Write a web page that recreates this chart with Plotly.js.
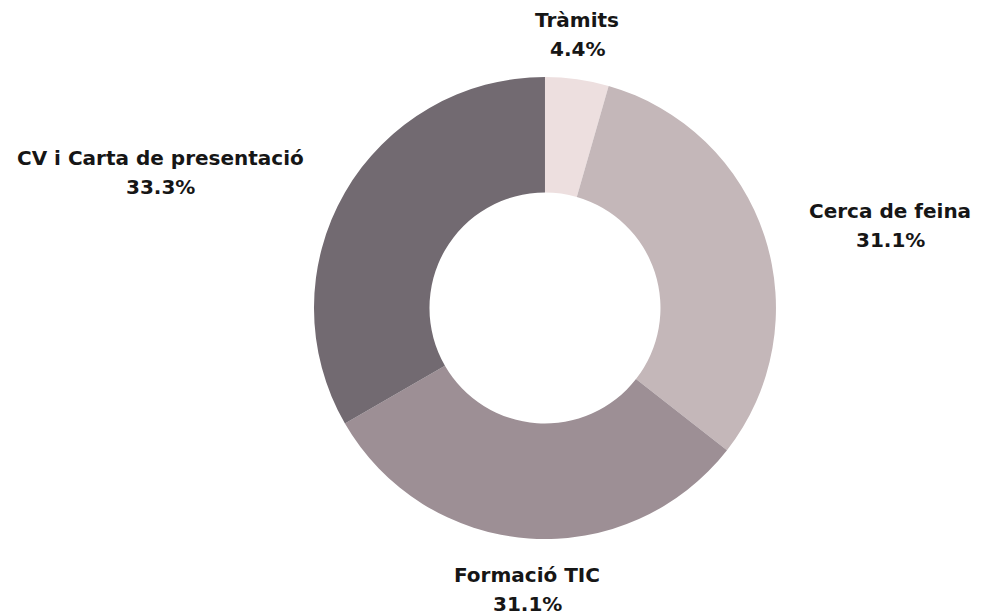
<!DOCTYPE html>
<html>
<head>
<meta charset="utf-8">
<script src="https://cdn.plot.ly/plotly-3.0.1.min.js"></script>
<style>html,body{margin:0;padding:0;background:#fff;}#chart{width:983px;height:615px;}</style>
</head>
<body>
<div id="chart"></div>
<script>
const categories = ["Tràmits", "Cerca de feina", "Formació TIC", "CV i Carta de presentació"];
const values = [2, 14, 14, 15];
const colors = ["#eddfdf", "#c4b7b9", "#9d8f95", "#726a71"];

const total = values.reduce((a, b) => a + b, 0);
const pctLabels = values.map(v => (100 * v / total).toFixed(1) + "%");

// label anchor positions in pixels (center x, name line y) for each category
const labelPx = [
  {x: 577, y: 20},
  {x: 890, y: 211},
  {x: 527, y: 575},
  {x: 160, y: 158}
];
const W = 983, H = 615, lineGap = 29;

const trace = {
  type: "pie",
  labels: categories,
  values: values,
  hole: 0.5,
  sort: false,
  direction: "clockwise",
  rotation: 0,
  marker: {colors: colors, line: {width: 0}},
  textinfo: "none",
  hoverinfo: "label+percent",
  domain: {x: [0.3194, 0.7894], y: [0.1236, 0.8748]},
  showlegend: false
};

const font = {family: "DejaVu Sans, sans-serif", size: 20, color: "#161616"};
const annotations = [];
categories.forEach((c, i) => {
  const p = labelPx[i];
  annotations.push({
    xref: "paper", yref: "paper", x: p.x / W, y: 1 - p.y / H,
    xanchor: "center", yanchor: "middle", showarrow: false,
    text: "<b>" + c + "</b>", font: font
  });
  annotations.push({
    xref: "paper", yref: "paper", x: p.x / W, y: 1 - (p.y + lineGap) / H,
    xanchor: "center", yanchor: "middle", showarrow: false,
    text: "<b>" + pctLabels[i] + "</b>", font: font
  });
});

const layout = {
  width: W, height: H,
  margin: {l: 0, r: 0, t: 0, b: 0},
  paper_bgcolor: "#ffffff",
  plot_bgcolor: "#ffffff",
  showlegend: false,
  annotations: annotations
};

Plotly.newPlot("chart", [trace], layout, {displayModeBar: false, staticPlot: true});
</script>
</body>
</html>
